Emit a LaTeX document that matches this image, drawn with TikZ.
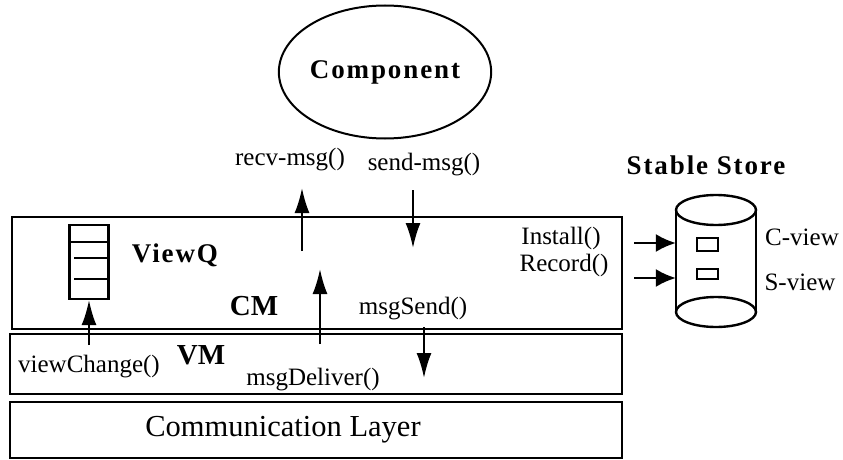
\documentclass[tikz,border=0pt]{standalone}
\usepackage{fontspec}
\setmainfont{Liberation Serif}
\newfontfamily\spacedbf[LetterSpace=7]{Liberation Serif}
\usetikzlibrary{arrows.meta,positioning,calc,shapes.geometric}

\begin{document}
\begin{tikzpicture}[
    x=1pt, y=-1pt,
    layer/.style={draw, line width=2.4pt, inner sep=0pt},
    arrow/.style={-{Latex[length=25pt,width=15pt]}, line width=2pt},
    storearrow/.style={-{Latex[length=20pt,width=18pt]}, line width=2pt},
    label/.style={font=\fontsize{25}{28}\selectfont, inner sep=0pt},
    title/.style={font=\fontsize{27}{30}\selectfont\spacedbf\bfseries, inner sep=0pt},
    manager/.style={font=\fontsize{29}{32}\selectfont\bfseries, inner sep=0pt}
]
    \useasboundingbox (0,0) rectangle (843,460);

    % Layers
    \node[layer, minimum width=610pt, minimum height=112pt] (cm) at (317,273) {};
    \node[layer, minimum width=612pt, minimum height=60pt] (vm) at (316,364) {};
    \node[layer, minimum width=612pt, minimum height=56pt] (comm) at (316,430) {};
    \node[label, font=\fontsize{30.5}{34}\selectfont] (commlabel) at (283,430) {Communication Layer};

    % Component
    \node[draw, ellipse, line width=2pt, minimum width=180pt, minimum height=133pt, title] (comp) at (385,72) {Component};

    % View queue
    \node[draw, line width=2.2pt, minimum width=39pt, minimum height=74pt, inner sep=0pt] (viewq) at (89,262) {};
    \draw[line width=2pt] ($(viewq.north west)+(0,18)$) -- ($(viewq.north east)+(0,18)$);
    \draw[line width=2pt] ($(viewq.north west)+(6,34)$) -- ($(viewq.north east)+(0,34)$);
    \draw[line width=2pt] ($(viewq.north west)+(6,55)$) -- ($(viewq.north east)+(0,55)$);

    % Stable store
    \node[inner sep=0pt, minimum width=80pt, minimum height=102pt] (store) at (716,261) {};
    \draw[line width=2.4pt] (716,210) ellipse [x radius=40pt, y radius=15pt];
    \draw[line width=2.4pt] (716,312) ellipse [x radius=40pt, y radius=15pt];
    \draw[line width=2.4pt] (store.north west) -- (store.south west);
    \draw[line width=2.4pt] (store.north east) -- (store.south east);
    \node[draw, line width=2pt, minimum width=21pt, minimum height=13pt, inner sep=0pt] (cbox) at (707.5,244.5) {};
    \node[draw, line width=2pt, minimum width=21pt, minimum height=10pt, inner sep=0pt] (sbox) at (707.5,274) {};

    % Labels
    \node[title] (viewqlabel) at (175,255) {ViewQ};
    \node[manager] (cmlabel) at (254,306) {CM};
    \node[manager] (vmlabel) at (201,355) {VM};
    \node[label] (viewchange) at (89,367) {viewChange()};
    \node[label] (msgdeliver) at (313,380) {msgDeliver()};
    \node[label] (msgsend) at (413,309) {msgSend()};
    \node[label] (recvmsg) at (290,160) {recv-msg()};
    \node[label] (sendmsg) at (424,165) {send-msg()};
    \node[label] (install) at (561,238) {Install()};
    \node[label] (record) at (564,265) {Record()};
    \node[label] (cview) at (802,237) {C-view};
    \node[label] (sview) at (800,282) {S-view};
    \node[title] (storelabel) at (706,165) {Stable Store};

    % Arrows
    \coordinate (recv-start) at (302,251);
    \coordinate (recv-end) at (302,188);
    \coordinate (send-start) at (413,190);
    \coordinate (send-end) at (413,248);
    \coordinate (deliver-start) at (320,344);
    \coordinate (deliver-end) at (320,269);
    \coordinate (msgsend-start) at (424,327);
    \coordinate (msgsend-end) at (424,378);
    \coordinate (change-start) at (viewq.south |- 0,345);
    \coordinate (install-start) at (634,243);
    \coordinate (record-start) at (634,278);

    \draw[arrow] (recv-start) -- (recv-end);
    \draw[arrow] (send-start) -- (send-end);
    \draw[arrow] (deliver-start) -- (deliver-end);
    \draw[arrow] (msgsend-start) -- (msgsend-end);
    \draw[arrow] (change-start) -- (viewq.south);
    \draw[storearrow] (install-start) -- (install-start -| store.west);
    \draw[storearrow] (record-start) -- (record-start -| store.west);
\end{tikzpicture}
\end{document}
